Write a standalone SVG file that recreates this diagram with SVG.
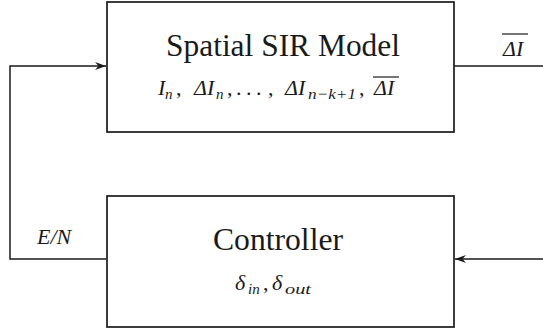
<svg xmlns="http://www.w3.org/2000/svg" width="543" height="331" viewBox="0 0 543 331">
  <style>
    .box { fill: #fff; stroke: #1a1a1a; stroke-width: 1.7; }
    .wire { fill: none; stroke: #1a1a1a; stroke-width: 1.5; }
    .t { font-family: "Liberation Serif", "DejaVu Serif", "Times New Roman", serif; fill: #1a1a1a; }
    .m { font-family: "Liberation Serif", "DejaVu Serif", "Times New Roman", serif; font-style: italic; fill: #1a1a1a; font-size: 22px; }
    .sub { font-size: 15px; }
    .up { font-style: normal; }
    .bar { stroke: #1a1a1a; stroke-width: 1.2; }
  </style>
  <defs>
    <marker id="arr" markerUnits="userSpaceOnUse" markerWidth="12" markerHeight="10" refX="11" refY="4" orient="auto">
      <path d="M0,0 L11,4 L0,8 L3.5,4 Z" fill="#1a1a1a"/>
    </marker>
  </defs>

  <g id="connectors">
    <line class="wire" x1="454" y1="66" x2="543" y2="66"/>
    <line class="wire" x1="543" y1="259" x2="455" y2="259" marker-end="url(#arr)"/>
    <path class="wire" d="M106,259 H10 V66 H106" marker-end="url(#arr)"/>
  </g>

  <g id="sir-model">
    <rect class="box" x="107" y="2" width="347" height="130"/>
    <text class="t" x="166" y="56" font-size="31" textLength="234" lengthAdjust="spacingAndGlyphs">Spatial SIR Model</text>
    <text class="m" y="95"><tspan x="158">I</tspan><tspan class="sub" x="165" dy="4">n</tspan><tspan class="up" x="176" dy="-4">,</tspan><tspan x="194">ΔI</tspan><tspan class="sub" x="216" dy="4">n</tspan><tspan class="up" x="227" dy="-4">,</tspan><tspan class="up" x="236">.</tspan><tspan class="up" x="246">.</tspan><tspan class="up" x="256">.</tspan><tspan class="up" x="268">,</tspan><tspan x="285">ΔI</tspan><tspan class="sub" x="308" dy="4" textLength="48" lengthAdjust="spacingAndGlyphs">n−k+1</tspan><tspan class="up" x="359" dy="-4">,</tspan><tspan x="374">ΔI</tspan></text>
    <line class="bar" x1="373" y1="77" x2="399" y2="77"/>
  </g>

  <g id="controller">
    <rect class="box" x="107" y="196" width="347" height="131"/>
    <text class="t" x="213" y="250" font-size="31" textLength="130" lengthAdjust="spacingAndGlyphs">Controller</text>
    <text class="m" y="290"><tspan x="235">δ</tspan><tspan class="sub" x="248" dy="4">in</tspan><tspan class="up" x="263" dy="-4">,</tspan><tspan x="272">δ</tspan><tspan class="sub" x="285" dy="4" textLength="26" lengthAdjust="spacingAndGlyphs">out</tspan></text>
  </g>

  <g id="labels">
    <text class="m" x="37" y="244" font-size="23">E/N</text>
    <text class="m" x="503" y="56">ΔI</text>
    <line class="bar" x1="502" y1="34" x2="528" y2="34"/>
  </g>
</svg>
